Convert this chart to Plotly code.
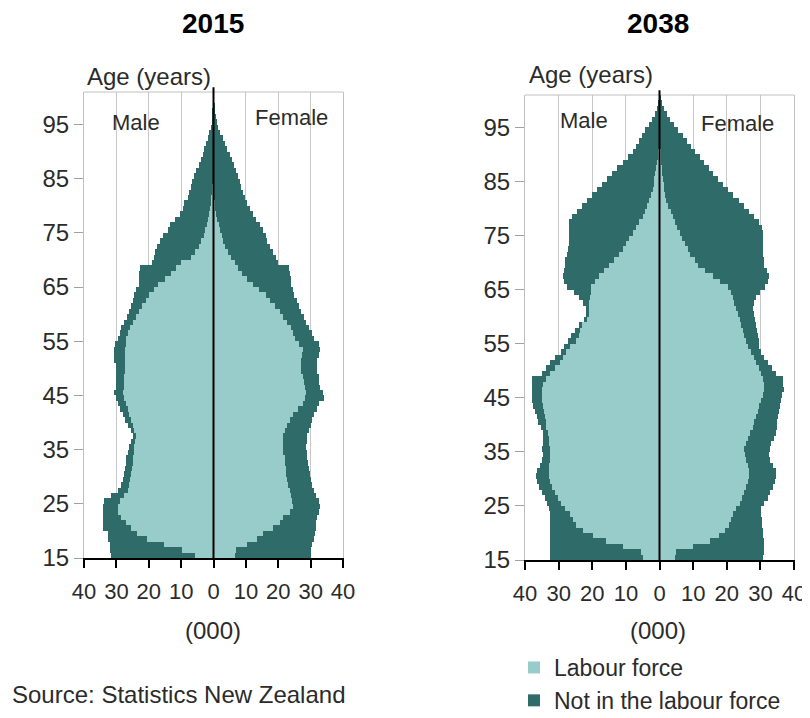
import plotly.graph_objects as go

ages = list(range(15, 101))
age_ticks = [15, 25, 35, 45, 55, 65, 75, 85, 95]
x_ticks = [-40, -30, -20, -10, 0, 10, 20, 30, 40]
x_tick_text = ["40", "30", "20", "10", "0", "10", "20", "30", "40"]
series_names = ["Labour force", "Not in the labour force"]
panel_titles = ["2015", "2038"]

# (000) people, ages 15..100
male_total_2015 = [
    31.6, 32.0, 32.0, 32.5, 32.7, 34.2, 34.2, 34.2, 34.2, 34.0,
    33.7, 31.6, 29.5, 28.6, 28.0, 27.5, 27.3, 27.0, 27.0, 26.5,
    26.0, 25.5, 25.0, 25.5, 26.5, 27.3, 28.0, 29.0, 29.6, 30.2,
    30.8, 30.2, 30.0, 30.0, 30.0, 30.0, 30.8, 30.8, 30.8, 30.5,
    29.6, 29.0, 28.5, 27.5, 26.8, 26.0, 25.5, 25.0, 24.5, 24.0,
    23.0, 23.0, 23.0, 22.8, 19.0, 18.4, 18.0, 17.3, 16.5, 15.5,
    14.0, 13.5, 12.0, 10.5, 9.5, 9.0, 8.0, 7.5, 7.0, 6.5,
    6.0, 5.3, 4.6, 4.0, 3.3, 2.8, 2.2, 1.8, 1.3, 0.9,
    0.6, 0.4, 0.2, 0.1, 0.05, 0.02]
male_lf_2015 = [
    5.6, 9.7, 15.3, 20.4, 23.5, 25.5, 27.0, 28.6, 29.6, 29.6,
    29.0, 27.5, 26.5, 26.0, 25.7, 25.5, 25.3, 25.0, 24.8, 24.6,
    24.5, 24.2, 24.0, 24.5, 25.0, 25.5, 26.0, 26.5, 27.0, 27.5,
    28.0, 27.8, 27.8, 27.5, 27.3, 27.3, 27.3, 27.3, 27.2, 27.0,
    27.0, 26.3, 25.8, 25.0, 24.0, 23.0, 22.0, 21.0, 20.0, 18.5,
    17.0, 15.0, 13.0, 11.5, 10.0, 7.0, 5.8, 4.6, 3.8, 3.0,
    2.5, 2.0, 1.6, 1.3, 1.1, 0.9, 0.7, 0.5, 0.4, 0.3,
    0.2, 0.15, 0.1, 0.1, 0.05, 0.05, 0.03, 0.02, 0.01, 0.01,
    0.0, 0.0, 0.0, 0.0, 0.0, 0.0]
female_total_2015 = [
    30.0, 30.0, 30.5, 31.0, 31.3, 31.6, 31.8, 32.0, 32.5, 33.0,
    32.7, 31.8, 31.0, 30.5, 30.0, 29.8, 29.6, 29.3, 29.0, 28.8,
    28.6, 28.8, 29.0, 29.5, 30.0, 30.5, 31.0, 32.0, 32.7, 34.2,
    33.7, 33.0, 32.7, 32.5, 32.0, 32.0, 32.0, 32.5, 33.0, 32.7,
    31.0, 30.3, 29.5, 28.5, 27.8, 27.0, 26.3, 25.7, 25.0, 24.5,
    24.0, 23.8, 23.5, 23.3, 19.8, 19.4, 18.3, 17.3, 16.5, 16.3,
    15.3, 14.3, 13.2, 12.2, 11.3, 10.5, 9.7, 9.2, 8.6, 8.1,
    7.6, 7.0, 6.3, 5.6, 5.0, 4.3, 3.6, 2.8, 2.0, 1.5,
    1.1, 0.7, 0.4, 0.2, 0.1, 0.05]
female_lf_2015 = [
    6.6, 7.0, 10.2, 13.3, 15.3, 18.4, 20.4, 21.4, 23.5, 24.5,
    24.3, 24.0, 23.5, 23.0, 22.7, 22.5, 22.4, 22.2, 22.0, 21.6,
    21.4, 21.4, 21.4, 22.0, 22.7, 23.5, 24.5, 26.0, 27.5, 28.3,
    28.6, 28.3, 28.0, 27.5, 27.0, 27.0, 27.0, 27.2, 27.5, 26.5,
    25.3, 24.5, 23.8, 22.8, 21.5, 20.4, 19.0, 17.5, 16.3, 14.0,
    12.2, 10.5, 8.7, 7.5, 6.6, 5.3, 4.5, 3.6, 3.0, 2.5,
    2.0, 1.6, 1.2, 0.8, 0.5, 0.4, 0.3, 0.2, 0.15, 0.1,
    0.05, 0.05, 0.03, 0.02, 0.01, 0.0, 0.0, 0.0, 0.0, 0.0,
    0.0, 0.0, 0.0, 0.0, 0.0, 0.0]

male_total_2038 = [
    32.7, 32.7, 32.7, 32.7, 32.7, 32.7, 32.7, 32.7, 32.7, 33.0,
    33.5, 34.0, 35.0, 35.8, 36.4, 36.6, 36.3, 35.5, 34.8, 34.7,
    35.0, 34.7, 34.7, 34.7, 35.3, 36.0, 36.5, 37.0, 37.5, 37.8,
    38.0, 38.0, 38.0, 37.8, 35.0, 33.8, 32.5, 31.0, 29.3, 28.3,
    27.2, 26.2, 25.2, 24.0, 22.5, 21.8, 22.0, 22.8, 24.0, 25.5,
    27.5, 28.5, 28.7, 28.5, 28.2, 28.0, 27.5, 27.2, 27.0, 27.0,
    27.0, 27.0, 27.0, 26.0, 24.5, 23.0, 21.5, 20.0, 18.5, 17.0,
    15.5, 14.0, 12.5, 11.0, 9.5, 8.0, 7.0, 6.0, 5.2, 4.3,
    3.2, 2.2, 1.4, 0.8, 0.4, 0.1]
male_lf_2038 = [
    5.0, 5.4, 10.9, 15.8, 19.8, 22.8, 24.8, 25.8, 26.7, 28.0,
    29.2, 30.2, 31.2, 32.0, 32.7, 33.0, 33.0, 33.0, 32.7, 32.7,
    32.7, 32.9, 33.0, 33.3, 33.7, 33.9, 34.0, 34.3, 34.7, 34.9,
    34.9, 34.8, 34.7, 33.8, 32.7, 31.0, 29.7, 28.7, 27.7, 26.5,
    24.8, 24.0, 23.5, 23.0, 21.5, 21.0, 21.0, 21.0, 20.8, 20.5,
    20.3, 19.2, 18.0, 16.5, 15.0, 13.5, 12.0, 11.0, 10.0, 9.0,
    8.0, 7.0, 6.0, 5.0, 4.3, 3.6, 3.0, 2.5, 2.0, 1.7,
    1.5, 1.2, 0.9, 0.7, 0.5, 0.3, 0.2, 0.1, 0.05, 0.02,
    0.0, 0.0, 0.0, 0.0, 0.0, 0.0]
female_total_2038 = [
    30.7, 31.0, 31.2, 31.0, 30.8, 30.7, 30.6, 30.5, 30.3, 30.2,
    31.0, 32.2, 33.0, 33.7, 34.2, 34.7, 34.5, 33.7, 33.0, 32.7,
    32.9, 33.2, 34.0, 34.7, 34.8, 35.0, 35.3, 35.6, 35.8, 36.0,
    36.5, 37.0, 36.8, 36.6, 34.7, 33.5, 32.2, 31.2, 30.2, 29.5,
    29.5, 29.2, 29.0, 28.8, 28.4, 28.2, 27.9, 28.0, 28.7, 30.0,
    31.5, 32.3, 32.7, 32.0, 31.2, 31.0, 30.8, 30.7, 30.7, 30.7,
    30.7, 30.5, 29.5, 28.0, 26.5, 25.0, 23.5, 22.0, 20.5, 18.8,
    17.3, 16.0, 14.7, 13.3, 12.0, 10.5, 9.3, 8.2, 7.0, 5.6,
    4.3, 3.2, 2.3, 1.4, 0.7, 0.2]
female_lf_2038 = [
    4.5, 5.0, 9.9, 14.9, 17.8, 19.5, 20.8, 21.3, 21.8, 22.8,
    23.8, 24.5, 25.2, 25.7, 26.2, 26.5, 26.7, 26.2, 25.7, 25.4,
    25.2, 25.7, 26.2, 27.0, 27.7, 28.2, 28.7, 29.2, 29.7, 30.2,
    30.7, 31.0, 31.2, 30.8, 30.2, 29.5, 28.7, 28.0, 27.2, 26.4,
    25.7, 25.2, 24.8, 24.3, 23.8, 23.3, 22.8, 22.3, 21.8, 21.3,
    20.3, 18.0, 15.8, 13.5, 11.4, 10.5, 9.2, 8.5, 7.5, 6.7,
    6.0, 5.3, 4.7, 4.0, 3.3, 2.6, 2.0, 1.7, 1.4, 1.2,
    1.0, 0.8, 0.6, 0.5, 0.4, 0.3, 0.2, 0.1, 0.05, 0.02,
    0.0, 0.0, 0.0, 0.0, 0.0, 0.0]

LF_COLOR = "#97cccb"
NLF_COLOR = "#2e6b69"
TEXT = "#2b2b2b"
SANS = "Liberation Sans, Arial, sans-serif"
# page body has an 8px margin: figure sized so it fills the window exactly
OFF = 8
W, H = 810 - OFF, 718 - OFF


def px(x):
    return (x - OFF) / W


def py(y):
    return 1 - (y - OFF) / H


panels = [
    dict(xa="x", ya="y", male_lf=male_lf_2015, male_tot=male_total_2015,
         fem_lf=female_lf_2015, fem_tot=female_total_2015, legend=False),
    dict(xa="x2", ya="y2", male_lf=male_lf_2038, male_tot=male_total_2038,
         fem_lf=female_lf_2038, fem_tot=female_total_2038, legend=True),
]

ypos = [a + 0.5 for a in ages]
fig = go.Figure()
for p in panels:
    m_nlf = [t - l for t, l in zip(p["male_tot"], p["male_lf"])]
    f_nlf = [t - l for t, l in zip(p["fem_tot"], p["fem_lf"])]
    fig.add_trace(go.Bar(y=ypos, x=[-v for v in p["male_lf"]], orientation="h", width=1,
                         marker=dict(color=LF_COLOR, line=dict(width=0)),
                         name=series_names[0], legendgroup="lf", showlegend=p["legend"],
                         xaxis=p["xa"], yaxis=p["ya"]))
    fig.add_trace(go.Bar(y=ypos, x=p["fem_lf"], orientation="h", width=1,
                         marker=dict(color=LF_COLOR, line=dict(width=0)),
                         name=series_names[0], legendgroup="lf", showlegend=False,
                         xaxis=p["xa"], yaxis=p["ya"]))
    fig.add_trace(go.Bar(y=ypos, x=[-v for v in m_nlf], orientation="h", width=1,
                         marker=dict(color=NLF_COLOR, line=dict(width=0)),
                         name=series_names[1], legendgroup="nlf", showlegend=p["legend"],
                         xaxis=p["xa"], yaxis=p["ya"]))
    fig.add_trace(go.Bar(y=ypos, x=f_nlf, orientation="h", width=1,
                         marker=dict(color=NLF_COLOR, line=dict(width=0)),
                         name=series_names[1], legendgroup="nlf", showlegend=False,
                         xaxis=p["xa"], yaxis=p["ya"]))

xaxis_common = dict(range=[-40, 40], tickvals=x_ticks, ticktext=x_tick_text, tickangle=0,
                    showgrid=True, gridcolor="#c8c8c8", gridwidth=1,
                    zeroline=False, showline=True, linecolor="black", linewidth=1.5,
                    ticks="outside", ticklen=8, tickcolor="black", tickwidth=1.5,
                    ticklabelstandoff=5, ticklabeloverflow="allow", automargin=False,
                    tickfont=dict(family=SANS, size=22, color=TEXT),
                    fixedrange=True)
yaxis_common = dict(range=[15, 101], tickvals=age_ticks, showgrid=False, zeroline=False,
                    showline=True, linecolor="#c0c0c0", linewidth=1, mirror=True,
                    ticks="outside", ticklen=9, tickcolor="#a0a0a0",
                    automargin=False,
                    tickfont=dict(family=SANS, size=24, color=TEXT),
                    fixedrange=True)

fig.update_layout(
    width=W, height=H,
    margin=dict(l=0, r=0, t=0, b=0, autoexpand=False),
    paper_bgcolor="white", plot_bgcolor="white",
    barmode="relative", bargap=0,
    xaxis=dict(domain=[px(84), px(343)], anchor="y", **xaxis_common),
    yaxis=dict(domain=[py(558), py(92)], anchor="x", **yaxis_common),
    xaxis2=dict(domain=[px(525), px(794)], anchor="y2", **xaxis_common),
    yaxis2=dict(domain=[py(560), py(95)], anchor="x2", **yaxis_common),
    showlegend=True,
    legend=dict(x=px(514), y=py(646), xanchor="left", yanchor="top",
                font=dict(family=SANS, size=23, color=TEXT),
                bgcolor="rgba(0,0,0,0)", tracegroupgap=0, itemclick=False,
                itemdoubleclick=False),
)

shapes = []
for xa, ya in [("x", "y"), ("x2", "y2")]:
    shapes.append(dict(type="line", xref=f"{xa} domain", yref=f"{ya} domain",
                       x0=0, x1=1, y0=1, y1=1, line=dict(color="#c0c0c0", width=1)))
    shapes.append(dict(type="line", xref=xa, yref=f"{ya} domain", x0=0, x1=0,
                       y0=0, y1=1.01, line=dict(color="black", width=2), layer="above"))
fig.update_layout(shapes=shapes)

ann = []
for title, cx in zip(panel_titles, [213, 658]):
    ann.append(dict(text=title, x=px(cx), y=py(24), xref="paper", yref="paper",
                    showarrow=False, xanchor="center", yanchor="middle",
                    font=dict(family=SANS, size=28, color="black", weight="bold")))
    ann.append(dict(text="(000)", x=px(cx), y=py(630), xref="paper", yref="paper",
                    showarrow=False, xanchor="center", yanchor="middle",
                    font=dict(family=SANS, size=24, color=TEXT)))
for lx, ly in [(85, 77), (527, 75)]:
    ann.append(dict(text="Age (years)", x=px(lx), y=py(ly), xref="paper", yref="paper",
                    showarrow=False, xanchor="left", yanchor="middle",
                    font=dict(family=SANS, size=24, color=TEXT)))
for txt, cx, cy in [("Male", 136, 122), ("Female", 291, 117),
                    ("Male", 584, 120), ("Female", 737, 123)]:
    ann.append(dict(text=txt, x=px(cx), y=py(cy), xref="paper", yref="paper",
                    showarrow=False, xanchor="center", yanchor="middle",
                    font=dict(family=SANS, size=22, color=TEXT)))
ann.append(dict(text="Source: Statistics New Zealand", x=px(10), y=py(694),
                xref="paper", yref="paper", showarrow=False, xanchor="left",
                yanchor="middle", font=dict(family=SANS, size=24, color=TEXT)))
fig.update_layout(annotations=ann)

fig.write_html("out.html")
